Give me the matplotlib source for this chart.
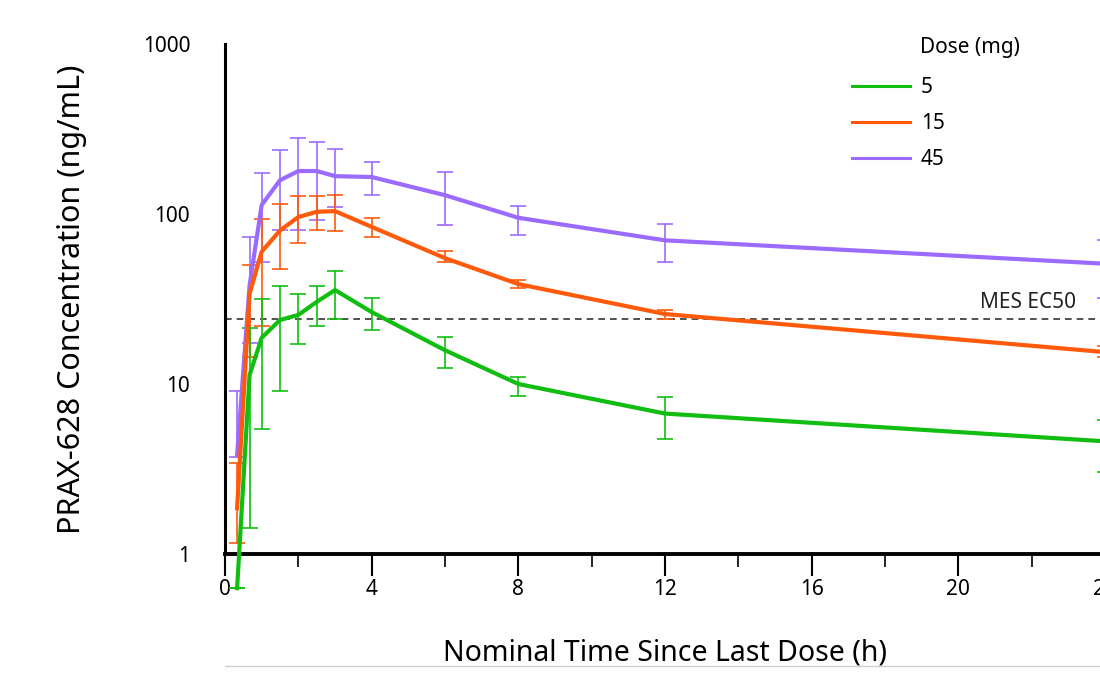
import numpy as np
import matplotlib
matplotlib.use("Agg")
import matplotlib.pyplot as plt
from matplotlib.lines import Line2D
from matplotlib.ticker import FixedLocator, NullLocator

plt.rcParams['font.family'] = ['Noto Sans', 'DejaVu Sans']

# Nominal time points (h)
times = [0.33, 0.67, 1, 1.5, 2, 2.5, 3, 4, 6, 8, 12, 24]

# 5 mg
mean_5 = [0.63, 11.3, 18.7, 23.8, 25.5, 30.4, 35.7, 26.5, 15.8, 10.0, 6.7, 4.6]
low_5 = [0.63, 1.42, 5.4, 9.1, 17.2, 22.0, 24.0, 20.8, 12.4, 8.5, 4.75, 3.04]
high_5 = [0.63, 21.4, 31.6, 37.7, 34.0, 37.7, 46.0, 32.0, 18.9, 11.0, 8.4, 6.15]

# 15 mg
mean_15 = [1.86, 34, 60, 80, 96, 103, 104, 84, 55, 38.7, 25.8, 15.4]
low_15 = [1.16, 14.4, 22, 47.5, 67.5, 80, 79, 73, 52, 36.6, 24, 14.4]
high_15 = [3.43, 50, 93, 114, 128, 128, 130, 95, 60.5, 41, 27.3, 16.7]

# 45 mg
mean_45 = [3.8, 38, 113, 158, 179, 179, 167, 165, 129, 95, 70, 51]
low_45 = [3.7, 17.5, 52, 81, 81, 92, 110, 129, 86, 75, 52, 32]
high_45 = [9.1, 73, 174, 238, 280, 265, 242, 202, 177, 111, 87.6, 70]

mes_ec50 = 24

series = [
    ("5", "#10bd10", mean_5, low_5, high_5),
    ("15", "#ff5a0a", mean_15, low_15, high_15),
    ("45", "#9b6bff", mean_45, low_45, high_45),
]

fig = plt.figure(figsize=(11, 6.74), dpi=100)
ax = fig.add_axes([225 / 1100, 120 / 674, 880 / 1100, 510 / 674])

ax.axhline(mes_ec50, color="#333333", linestyle=(0, (4, 3)), linewidth=1.2, zorder=1)
ax.text(23.2, 26.3, "MES EC50", ha="right", va="bottom", fontsize=15, color="#222222")

for label, color, mean, low, high in reversed(series):
    m = np.array(mean)
    yerr = [m - np.array(low), np.array(high) - m]
    ax.errorbar(times, m, yerr=yerr, fmt="none", ecolor=color, elinewidth=1.2,
                capsize=5.5, capthick=1.2, zorder=2, clip_on=False)
for label, color, mean, low, high in reversed(series):
    ax.plot(times, mean, color=color, linewidth=3, zorder=3, clip_on=False)

handles = [Line2D([], [], color=color, linewidth=2.2, label=label)
           for label, color, mean, low, high in series]

ax.set_yscale("log")
ax.set_ylim(1, 1000)
ax.set_xlim(0, 24)
ax.yaxis.set_major_locator(FixedLocator([1, 10, 100, 1000]))
ax.yaxis.set_minor_locator(NullLocator())
ax.set_yticklabels(["1", "10", "100", "1000"])
ax.set_xticks([0, 4, 8, 12, 16, 20, 24])
ax.set_xticks([2, 6, 10, 14, 18, 22], minor=True)

ax.tick_params(axis="y", length=0, pad=25, labelsize=15)
ax.tick_params(axis="x", which="major", length=16, width=1.5, direction="out", labelsize=15, pad=2)
ax.tick_params(axis="x", which="minor", length=9, width=1.2, direction="out")

for s in ["top", "right"]:
    ax.spines[s].set_visible(False)
ax.spines["left"].set_linewidth(2.2)
ax.spines["bottom"].set_linewidth(2.8)

ax.set_ylabel("PRAX-628 Concentration (ng/mL)", fontsize=22, labelpad=40)
ax.set_xlabel("Nominal Time Since Last Dose (h)", fontsize=20.5, labelpad=28)

fig.text(920 / 1100, 1 - 47 / 674, "Dose (mg)", ha="left", va="center", fontsize=15)
ax.legend(handles=handles, loc="upper left",
          bbox_to_anchor=(852 / 1100, 1 - 77 / 674), bbox_transform=fig.transFigure,
          frameon=False, fontsize=15, handlelength=2.8, borderpad=0, borderaxespad=0,
          labelspacing=0.72, handletextpad=0.5)

fig.add_artist(Line2D([225 / 1100, 1], [1 - 666 / 674] * 2, color="#d0d0d0", linewidth=1))

fig.savefig("out.png", dpi=100)
